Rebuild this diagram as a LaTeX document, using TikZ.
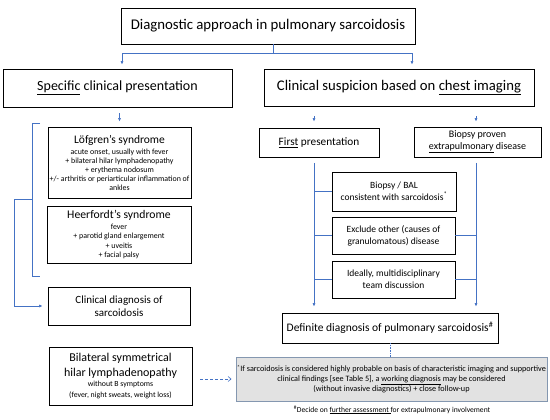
\documentclass[tikz,border=0pt]{standalone}
\usepackage{fontspec}
\setmainfont{Carlito}
\usetikzlibrary{arrows.meta}
\definecolor{linkblue}{RGB}{68,114,196}
\definecolor{notegray}{RGB}{226,226,226}
\definecolor{noteframe}{RGB}{132,151,176}
\newcommand{\fs}[2]{\fontsize{#1}{#2}\selectfont}

\begin{document}
\begin{tikzpicture}[x=1pt,y=-1pt,font=\fs{10}{12}]
% Box styles: plain box and grey note
\tikzstyle{box}=[draw,line width=0.8pt,align=center,inner sep=1pt];
\tikzstyle{note box}=[draw=noteframe,fill=notegray,line width=1pt,align=center,inner sep=1pt];
% Connector styles
\tikzstyle{link}=[draw=linkblue,line width=0.6pt]
\tikzstyle{arrow}=[link,-{Latex[length=3.5pt,width=3pt]}]
\useasboundingbox (0,0) rectangle (550,420);
% Top of the chart
\node[box,minimum width=294,minimum height=36,font=\fs{14.8}{16}](title) at (268,26) {Diagnostic approach in pulmonary sarcoidosis};
\node[box,minimum width=229,minimum height=38,font=\fs{14}{16}](specific) at (117.5,88) {\underline{Specific} clinical presentation};
\node[box,minimum width=270,minimum height=37,font=\fs{14.7}{16}](suspicion) at (399,87.5) {Clinical suspicion based on \underline{chest imaging}};
% Left column
\node[box,minimum width=143,minimum height=71,font=\fs{7.9}{9}](lofgren) at (119.5,162.5) {{\fs{11.5}{12}Löfgren’s syndrome}\\[2pt]
acute onset, usually with fever\\ + bilateral hilar lymphadenopathy\\ + erythema nodosum\\ +/- arthritis or periarticular inflammation of\\ ankles};
\node[box,minimum width=144,minimum height=57,font=\fs{7.9}{9.5}](heerfordt) at (119,234.5) {{\fs{11.7}{12}Heerfordt’s syndrome}\\[1.5pt]
fever\\ + parotid gland enlargement\\ + uveitis\\ + facial palsy};
\node[box,minimum width=142,minimum height=38,font=\fs{11}{13.5}](clindiag) at (119,306) {Clinical diagnosis of\\ sarcoidosis};
\node[box,minimum width=143,minimum height=58,font=\fs{7.8}{10}](bhl) at (120.5,376) {{\fs{12}{14}Bilateral symmetrical}\\[4pt]
{\fs{12}{14}hilar lymphadenopathy}\\ without B symptoms\\[1pt] (fever, night sweats, weight loss)};
% Right column
\node[box,minimum width=120,minimum height=29,font=\fs{11.3}{13}](first) at (319,142.5) {\underline{First} presentation};
\node[box,minimum width=127,minimum height=30,font=\fs{10}{12}](proven) at (477.5,142) {Biopsy proven\\ \underline{extrapulmonary} disease};
\node[box,minimum width=124,minimum height=39,font=\fs{9.5}{12}](bal) at (394,191.5) {Biopsy / BAL\\ consistent with sarcoidosis\textsuperscript{*}};
\node[box,minimum width=123,minimum height=37,font=\fs{9.5}{12}](exclude) at (393.5,235.5) {Exclude other (causes of\\ granulomatous) disease};
\node[box,minimum width=123,minimum height=37,font=\fs{9.5}{12}](ideal) at (393.5,279.5) {Ideally, multidisciplinary\\ team discussion};
\node[box,minimum width=216,minimum height=30,font=\fs{11.5}{13}](definite) at (390,328) {Definite diagnosis of pulmonary sarcoidosis\textsuperscript{\#}};
\node[note box,minimum width=311,minimum height=44,font=\fs{8.2}{9.3}](note) at (391.5,379) {\textsuperscript{*}If sarcoidosis is considered highly probable on basis of characteristic imaging and supportive\\
clinical findings [see Table 5], a \underline{working diagnosis} may be considered\\ (without invasive diagnostics) + close follow-up};
\node[font=\fs{7.6}{9}](footnote) at (392,410) {\textsuperscript{\#}Decide on \underline{further assessment }for extrapulmonary involvement};
% Points of the connectors
\coordinate (split) at (273,53);
\coordinate (l1) at (122,53);
\coordinate (r1) at (412,53);
\coordinate (railL) at (314,163);
\coordinate (railR) at (476,163);
\coordinate (brTop) at (40,123);
\coordinate (brBot) at (40,276);
\coordinate (brMid) at (32,199);
\coordinate (brOut) at (14,199);
% Connectors
\draw[link](title.south -| split)--(split);
\draw[arrow,shorten >=4pt](split)-|(specific.north -| l1);
\draw[arrow,shorten >=4pt](split)-|(suspicion.north -| r1);
\draw[arrow,shorten <=6pt,shorten >=5pt](specific.south -| lofgren.north)--(lofgren.north);
\draw[arrow,shorten <=10pt,shorten >=6pt](suspicion.south -| railL)--(first.north -| railL);
\draw[arrow,shorten <=10pt,shorten >=5pt](suspicion.south -| railR)--(proven.north -| railR);
\draw[link](brTop)--++(-8,0)|-(brBot);
\draw[arrow,shorten >=5pt](brMid)--(brOut)|-(clindiag.west);
\draw[arrow,shorten >=6pt](railL)--(definite.north -| railL);
\draw[arrow,shorten >=6pt](railR)--(definite.north -| railR);
\draw[link](bal.west -| railL)--(bal.west);
\draw[link](exclude.west -| railL)--(exclude.west);
\draw[link](ideal.west -| railL)--(ideal.west);
\draw[link](exclude.east)--(exclude.east -| railR);
\draw[link](ideal.east)--(ideal.east -| railR);
\draw[link,densely dotted](definite.south)--(definite.south |- note.north);
\draw[link,densely dashed,-{Straight Barb[length=3pt,width=5pt]},shorten <=8pt,shorten >=4pt](bhl.east |- note.west)--(note.west);
\end{tikzpicture}
\end{document}
